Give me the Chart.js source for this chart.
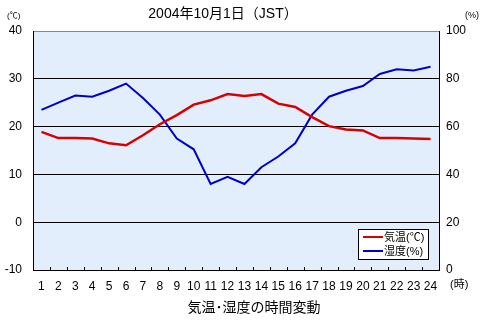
<!DOCTYPE html>
<html>
<head>
<meta charset="utf-8">
<script src="https://cdn.jsdelivr.net/npm/chart.js@4/dist/chart.umd.min.js"></script>
<style>
  html, body { margin: 0; padding: 0; background: #fff; }
  #wrap { width: 492px; height: 331px; }
</style>
</head>
<body>
<div id="wrap"><canvas id="kishou" width="492" height="331"></canvas></div>
<script>
const FONT = '"Liberation Sans", "Noto Sans CJK JP", sans-serif';

// 時刻 (1〜24時)
const jikan = ['1','2','3','4','5','6','7','8','9','10','11','12','13','14','15','16','17','18','19','20','21','22','23','24'];
// 気温 (℃)
const kion = [18.9, 17.6, 17.6, 17.5, 16.5, 16.1, 18.2, 20.5, 22.4, 24.6, 25.5, 26.8,
              26.4, 26.8, 24.8, 24.1, 22.0, 20.1, 19.4, 19.2, 17.6, 17.6, 17.5, 17.4];
// 湿度 (%)
const shitsudo = [67, 70, 73, 72.5, 75, 78, 72, 65, 55, 50.5, 36, 39,
                  36, 43, 47.5, 53, 65, 72.5, 75, 77, 82, 84, 83.5, 85];

const kionTicks = [-10, 0, 10, 20, 30, 40];
const shitsudoTicks = [0, 20, 40, 60, 80, 100];

const midashi = '2004年10月1日（JST）';
const shitaMidashi = '気温･湿度の時間変動';

// 背景・タイトル・凡例などの描画
const kazari = {
  id: 'kazari',
  beforeDraw(chart) {
    const { ctx, chartArea: a } = chart;
    ctx.save();
    ctx.fillStyle = '#e3eefd';
    ctx.fillRect(a.left, a.top, a.right - a.left, a.bottom - a.top);
    ctx.restore();
  },
  beforeDatasetsDraw(chart) {
    const { ctx, chartArea: a } = chart;
    ctx.save();
    // 目盛りの小さな線 (内側)
    const w = (a.right - a.left) / jikan.length;
    ctx.strokeStyle = '#000';
    ctx.lineWidth = 1;
    ctx.beginPath();
    for (let i = 1; i < jikan.length; i++) {
      const px = Math.round(a.left + i * w) + 0.5;
      ctx.moveTo(px, a.bottom);
      ctx.lineTo(px, a.bottom - 3);
    }
    ctx.stroke();
    ctx.restore();
  },
  afterDraw(chart) {
    const { ctx } = chart;
    ctx.save();
    ctx.fillStyle = '#000';
    ctx.textBaseline = 'middle';

    ctx.font = '14px ' + FONT;
    ctx.textAlign = 'center';
    ctx.fillText(midashi, 223, 14);
    ctx.fillText(shitaMidashi, 254, 308);

    ctx.font = '8px ' + FONT;
    ctx.textAlign = 'left';
    ctx.fillText('(℃)', 7, 16);
    ctx.font = '9px ' + FONT;
    ctx.fillText('(%)', 465, 16);
    ctx.font = '11px ' + FONT;
    ctx.fillText('(時)', 450, 285);

    // 凡例
    const lx = 358, ly = 229, lw = 70, lh = 30;
    ctx.fillStyle = '#fff';
    ctx.fillRect(lx, ly, lw, lh);
    ctx.strokeStyle = '#000';
    ctx.lineWidth = 1;
    ctx.strokeRect(lx + 0.5, ly + 0.5, lw, lh);
    ctx.font = '11px ' + FONT;
    chart.data.datasets.forEach((ds, i) => {
      const y = ly + 8 + i * 14;
      ctx.strokeStyle = ds.borderColor;
      ctx.lineWidth = 2;
      ctx.beginPath();
      ctx.moveTo(lx + 5, y);
      ctx.lineTo(lx + 25, y);
      ctx.stroke();
      ctx.fillStyle = '#000';
      ctx.fillText(ds.label, lx + 26, y + 1);
    });
    ctx.restore();
  }
};

new Chart(document.getElementById('kishou'), {
  type: 'line',
  data: {
    labels: jikan,
    datasets: [
      {
        label: '気温(℃)',
        data: kion,
        yAxisID: 'y',
        borderColor: '#d80000',
        borderWidth: 2.5,
        pointRadius: 0,
        tension: 0
      },
      {
        label: '湿度(%)',
        data: shitsudo,
        yAxisID: 'y1',
        borderColor: '#0000c8',
        borderWidth: 2,
        pointRadius: 0,
        tension: 0
      }
    ]
  },
  options: {
    responsive: false,
    animation: false,
    layout: { padding: { top: 31, left: 0, right: 0, bottom: 0 } },
    plugins: {
      legend: { display: false },
      tooltip: { enabled: false }
    },
    scales: {
      x: {
        type: 'category',
        offset: true,
        grid: { display: false, drawTicks: false },
        border: { display: true, color: '#000', width: 1 },
        ticks: {
          color: '#000',
          font: { family: FONT, size: 12 },
          padding: 9,
          maxRotation: 0,
          autoSkip: false
        },
        afterFit(s) { s.height = 61; }
      },
      y: {
        position: 'left',
        min: -10,
        max: 40,
        afterBuildTicks(s) { s.ticks = kionTicks.map(v => ({ value: v })); },
        grid: {
          drawTicks: false,
          color: ctx => (ctx.tick && ctx.tick.value === 40 ? '#888' : '#000'),
          lineWidth: 1
        },
        border: { display: true, color: '#000', width: 1 },
        ticks: {
          color: '#000',
          font: { family: FONT, size: 12 },
          padding: 11
        },
        afterFit(s) { s.width = 33; }
      },
      y1: {
        position: 'right',
        min: 0,
        max: 100,
        afterBuildTicks(s) { s.ticks = shitsudoTicks.map(v => ({ value: v })); },
        grid: { display: false, drawTicks: false },
        border: { display: true, color: '#000', width: 1 },
        ticks: {
          color: '#000',
          font: { family: FONT, size: 12 },
          padding: 7
        },
        afterFit(s) { s.width = 53; }
      }
    }
  },
  plugins: [kazari]
});
</script>
</body>
</html>
